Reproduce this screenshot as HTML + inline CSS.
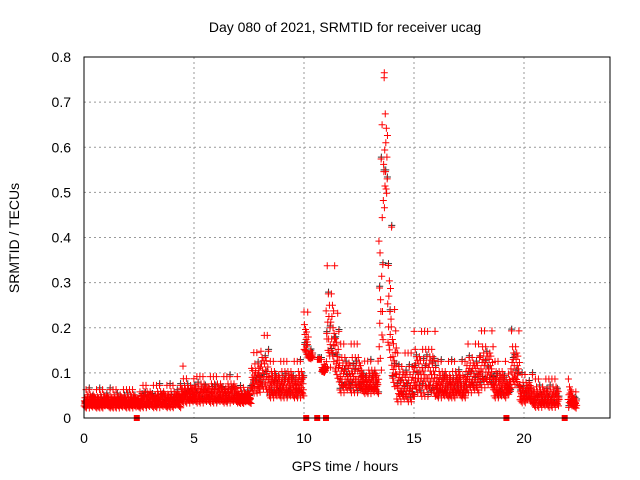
<!DOCTYPE html>
<html><head><meta charset="utf-8"><style>
body{margin:0;background:#fff}
svg{display:block;font-family:"Liberation Sans",sans-serif;font-size:14px}
</style></head><body>
<svg id="chart" width="640" height="480">
<text x="345" y="32" text-anchor="middle">Day 080 of 2021, SRMTID for receiver ucag</text>
<text x="345" y="471" text-anchor="middle">GPS time / hours</text>
<text transform="translate(19,238) rotate(-90)" text-anchor="middle">SRMTID / TECUs</text>
<g id="grid"></g>
<g id="ticks"></g>
<g id="marks"></g>
<rect x="84" y="57" width="526" height="361" fill="none" stroke="#000"/>
</svg>
<script>
const xTicks=[0,5,10,15,20];
const yTicks=[0,0.1,0.2,0.3,0.4,0.5,0.6,0.7,0.8];
const yTickLabels=["0","0.1","0.2","0.3","0.4","0.5","0.6","0.7","0.8"];
const binWidth=0.2;
function rep(n,v){return Array(n).fill(v);}
const binLo=[].concat(rep(12,.02),[.02],rep(9,.02),rep(3,.03),rep(10,.03),rep(3,.03),[.05,.05],[.05,.05],rep(8,.04),[.13,.13,null,.13,.1,.1,.1,.08],rep(5,.05),rep(4,.05),[.08,.45,.1,.06],rep(4,.03),rep(5,.04),rep(7,.04),rep(3,.05),rep(3,.06),rep(3,.04),[.05,.06,.06],rep(3,.03),rep(6,.02),[null,null,.02,.02]);
const binHi=[].concat(rep(12,.065),[.06],rep(9,.075),rep(3,.09),rep(10,.095),rep(3,.07),[.15,.15],[.19,.19],rep(8,.13),[.24,.15,null,.13,.12,.35,.35,.24],rep(5,.17),rep(4,.13),[.6,.77,.44,.25],rep(4,.15),rep(5,.2),rep(7,.13),rep(3,.17),rep(3,.2),rep(3,.13),[.1,.2,.2],rep(3,.1),rep(6,.09),[null,null,.09,.06]);
const zeroTimes=[2.4,10.1,10.6,11.0,19.2,21.85];
const outlierT=[4.5,10.0,13.55,13.65];
const outlierV=[0.115,0.235,0.65,0.765];
const pattern=[0.15,0.4,0.25,0.55,0.1,0.35,0.3,0.95,0.05,0.45,0.2,0.7,0.3,0.5,0.18,0.6];
const X=h=>84+h*22, Y=v=>418-v*451.25;
const NS='http://www.w3.org/2000/svg';
const grid=document.getElementById('grid'),ticks=document.getElementById('ticks'),marks=document.getElementById('marks');
function el(t,a,p){const e=document.createElementNS(NS,t);for(const k in a)e.setAttribute(k,a[k]);p.appendChild(e);return e;}
xTicks.forEach(t=>{
 if(t>0){const l=el('line',{x1:X(t),x2:X(t),y1:57,y2:418,stroke:'#999','stroke-dasharray':'2,3'},grid);
 
 }
 const tx=el('text',{x:X(t),y:443,'text-anchor':'middle'},ticks);tx.textContent=t;
 
 
});
yTicks.forEach((v,i)=>{
 if(v>0&&v<0.8){const l=el('line',{x1:84,x2:610,y1:Y(v),y2:Y(v),stroke:'#999','stroke-dasharray':'2,3'},grid);
 
 }
 const tx=el('text',{x:71,y:Y(v)+5,'text-anchor':'end'},ticks);tx.textContent=yTickLabels[i];
 
 
});
let dGray='',dRed='';
function plus(h,v){const x=X(h),y=Y(v);return `M${x-3.5} ${y}h7M${x} ${y-3.5}v7`;}
binLo.forEach((lo,i)=>{
 const hi=binHi[i]; if(lo==null)return;
 const n=pattern.length;
 for(let j=0;j<n;j++){
  const t=i*binWidth+(j+0.5)/n*binWidth;
  const v=lo+(hi-lo)*pattern[(j+i*5)%n];
  if(j%6==2) dGray+=plus(t+0.01,v+0.004);
  dRed+=plus(t,v);
 }
});
outlierT.forEach((t,i)=>{dRed+=plus(t,outlierV[i]);});
const pg=el('path',{d:dGray,stroke:'#333','stroke-width':1,fill:'none'},marks);


const pr=el('path',{d:dRed,stroke:'#f00','stroke-width':1,fill:'none'},marks);


zeroTimes.forEach(t=>{
 const r=el('rect',{x:X(t)-3,y:415,width:6,height:6,fill:'#f00'},marks);
 
 
});
</script>
</body></html>
